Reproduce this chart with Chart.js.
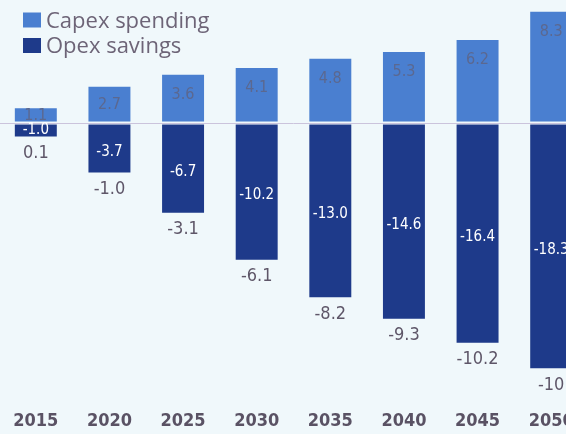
<!DOCTYPE html>
<html>
<head>
<meta charset="utf-8">
<script src="https://cdn.jsdelivr.net/npm/chart.js@4"></script>
<style>
  html, body { margin: 0; padding: 0; background: #f0f8fb; overflow: hidden; width: 566px; height: 434px; }
  #wrap { position: absolute; left: -1px; top: 0; width: 589px; height: 434px; }
</style>
</head>
<body>
<div id="wrap"><canvas id="c" width="589" height="434"></canvas></div>
<script>
const years = ['2015', '2020', '2025', '2030', '2035', '2040', '2045', '2050'];
const capex = [1.1, 2.7, 3.6, 4.1, 4.8, 5.3, 6.2, 8.3];
const opex = [-1.0, -3.7, -6.7, -10.2, -13.0, -14.6, -16.4, -18.3];
const netLabels = ['0.1', '-1.0', '-3.1', '-6.1', '-8.2', '-9.3', '-10.2', '-10'];
const seriesNames = ['Capex spending', 'Opex savings'];

const BG = '#f0f8fb';
const CAPEX_COLOR = '#4a7fd0';
const OPEX_COLOR = '#1e3a8a';
const TEXT_GREY = '#5e5668';
const COND = "'DejaVu Sans Condensed', 'DejaVu Sans', sans-serif";

// Zero line, value labels and the legend block
const decor = {
  id: 'decor',
  afterDatasetsDraw(chart) {
    const { ctx, scales: { y } } = chart;
    const y0 = y.getPixelForValue(0);
    ctx.save();
    // thin gap between the two stacks with the baseline inside it
    ctx.fillStyle = BG;
    ctx.fillRect(0, y0 - 1.5, chart.width, 3);
    ctx.strokeStyle = '#cbc4dc';
    ctx.lineWidth = 1;
    ctx.beginPath();
    ctx.moveTo(0, Math.round(y0) + 0.5);
    ctx.lineTo(chart.width, Math.round(y0) + 0.5);
    ctx.stroke();

    ctx.textAlign = 'center';
    ctx.textBaseline = 'middle';

    // capex values inside the light bars
    ctx.font = '16px ' + COND;
    ctx.fillStyle = '#5b6890';
    chart.getDatasetMeta(0).data.forEach((bar, i) => {
      const mid = (bar.y + bar.base) / 2;
      const ly = Math.min(bar.y + 20, mid);
      ctx.fillText(capex[i].toFixed(1), bar.x, ly);
    });

    // opex values inside the dark bars, net result below each
    chart.getDatasetMeta(1).data.forEach((bar, i) => {
      const h = bar.y - bar.base;
      const mid = (bar.y + bar.base) / 2 + Math.max(0, Math.min(4, h / 2 - 7));
      ctx.font = '15px ' + COND;
      ctx.fillStyle = '#ffffff';
      ctx.fillText(opex[i].toFixed(1), bar.x, mid);
      ctx.font = '18px ' + COND;
      ctx.fillStyle = TEXT_GREY;
      ctx.fillText(netLabels[i], bar.x, bar.y + 17);
    });

    // legend
    const items = [
      { label: seriesNames[0], color: CAPEX_COLOR, cy: 20 },
      { label: seriesNames[1], color: OPEX_COLOR, cy: 45.5 }
    ];
    ctx.textAlign = 'left';
    ctx.font = "22px 'Open Sans', 'Noto Sans', sans-serif";
    items.forEach(it => {
      ctx.fillStyle = it.color;
      ctx.fillRect(24, it.cy - 7.5, 18, 15);
      ctx.fillStyle = '#6d6477';
      ctx.fillText(it.label, 47, it.cy + 1.5);
    });
    ctx.restore();
  }
};

new Chart(document.getElementById('c'), {
  type: 'bar',
  data: {
    labels: years,
    datasets: [
      { label: seriesNames[0], data: capex, backgroundColor: CAPEX_COLOR },
      { label: seriesNames[1], data: opex, backgroundColor: OPEX_COLOR }
    ]
  },
  options: {
    responsive: false,
    animation: false,
    layout: { padding: 0 },
    datasets: { bar: { categoryPercentage: 1, barPercentage: 0.57, borderWidth: 0 } },
    plugins: { legend: { display: false }, tooltip: { enabled: false } },
    scales: {
      x: {
        stacked: true,
        grid: { display: false, drawTicks: false },
        border: { display: false },
        ticks: {
          padding: 13,
          color: '#5a5264',
          font: { family: COND, size: 18, weight: 'bold' }
        },
        afterFit: s => { s.height = 36; }
      },
      y: {
        stacked: true,
        display: false,
        min: -20.52,
        max: 9.18
      }
    }
  },
  plugins: [decor]
});
</script>
</body>
</html>
